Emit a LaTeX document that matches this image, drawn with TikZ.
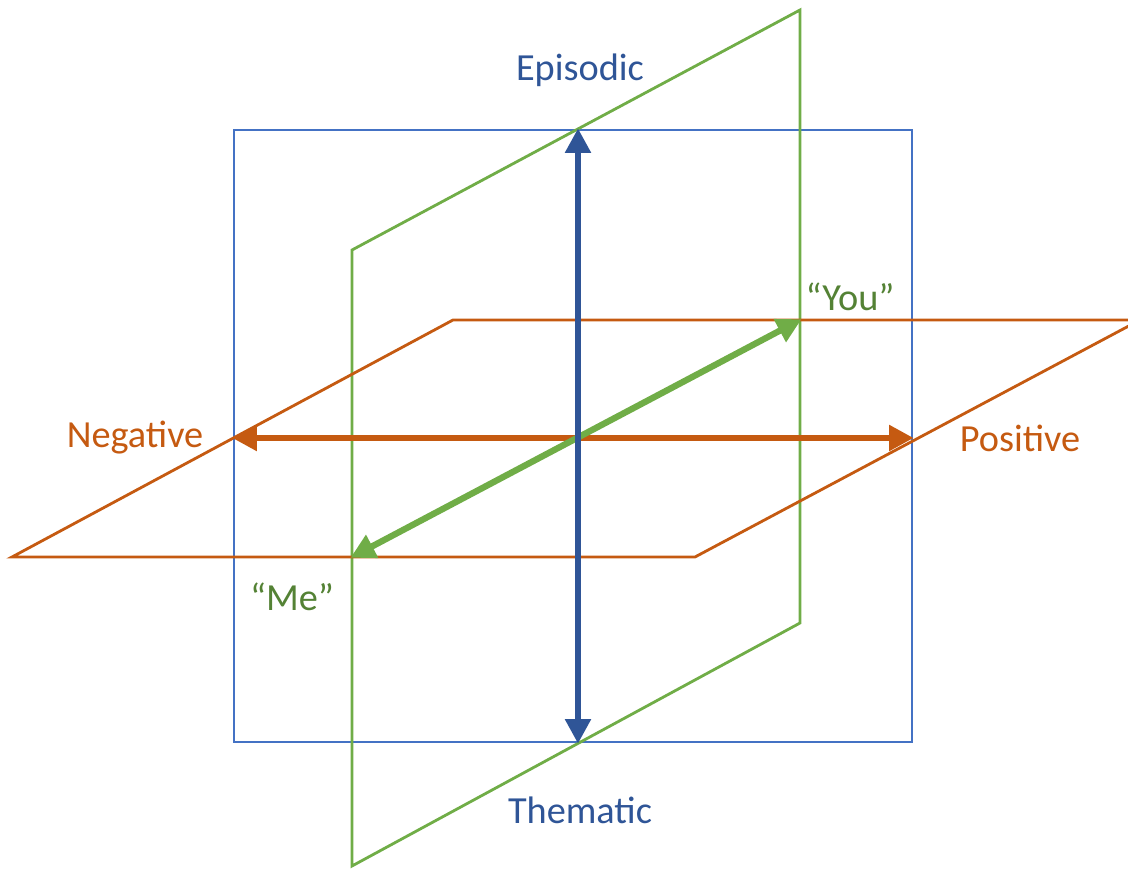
\documentclass[tikz,border=0pt]{standalone}
\usepackage{fontspec}
\setmainfont{Carlito}
\usetikzlibrary{arrows.meta}
\definecolor{planeblue}{HTML}{4472C4}
\definecolor{axisblue}{HTML}{2F5597}
\definecolor{planegreen}{HTML}{70AD47}
\definecolor{textgreen}{HTML}{548235}
\definecolor{planeorange}{HTML}{C55A11}
\begin{document}
\begin{tikzpicture}[
    plane/.style={line width=0.8pt, line join=miter},
    axis/.style={line width=1.8pt, {Triangle[length=7pt,width=7pt]}-{Triangle[length=7pt,width=7pt]}, shorten <=-0.5pt, shorten >=-0.5pt},
    label/.style={font=\fontsize{10.9}{13}\selectfont, inner sep=0pt}
]
    \useasboundingbox (0,0) rectangle (11.28,8.71);

    % Planes
    \draw[plane, planeblue] (2.34,1.29) rectangle (9.12,7.41);
    \draw[plane, planegreen] (3.52,6.21) -- (8.00,8.61) -- (8.00,2.48) -- (3.52,0.05) -- cycle;
    \draw[plane, planeorange] (4.53,5.51) -- (11.40,5.51) -- (6.95,3.14) -- (0.12,3.14) -- cycle;

    % Axis ends
    \coordinate (top) at (5.78,7.41);
    \coordinate (bottom) at (5.78,1.29);
    \coordinate (neg) at (2.34,4.33);
    \coordinate (pos) at (9.12,4.33);
    \coordinate (me) at (3.52,3.14);
    \coordinate (you) at (8.00,5.51);

    % Axes
    \draw[axis, planeorange] (neg) -- (pos);
    \draw[axis, planegreen] (me) -- (you);
    \draw[axis, axisblue] (bottom) -- (top);

    % Labels
    \node[label, text=axisblue] (episodic) at (5.80,8.01) {Episodic};
    \node[label, text=axisblue] (thematic) at (5.80,0.61) {Thematic};
    \node[label, text=planeorange] (negative) at (1.35,4.33) {Negative};
    \node[label, text=planeorange] (positive) at (10.20,4.33) {Positive};
    \node[label, text=textgreen] (youlabel) at (8.50,5.74) {“You”};
    \node[label, text=textgreen] (melabel) at (2.92,2.74) {“Me”};
\end{tikzpicture}
\end{document}
